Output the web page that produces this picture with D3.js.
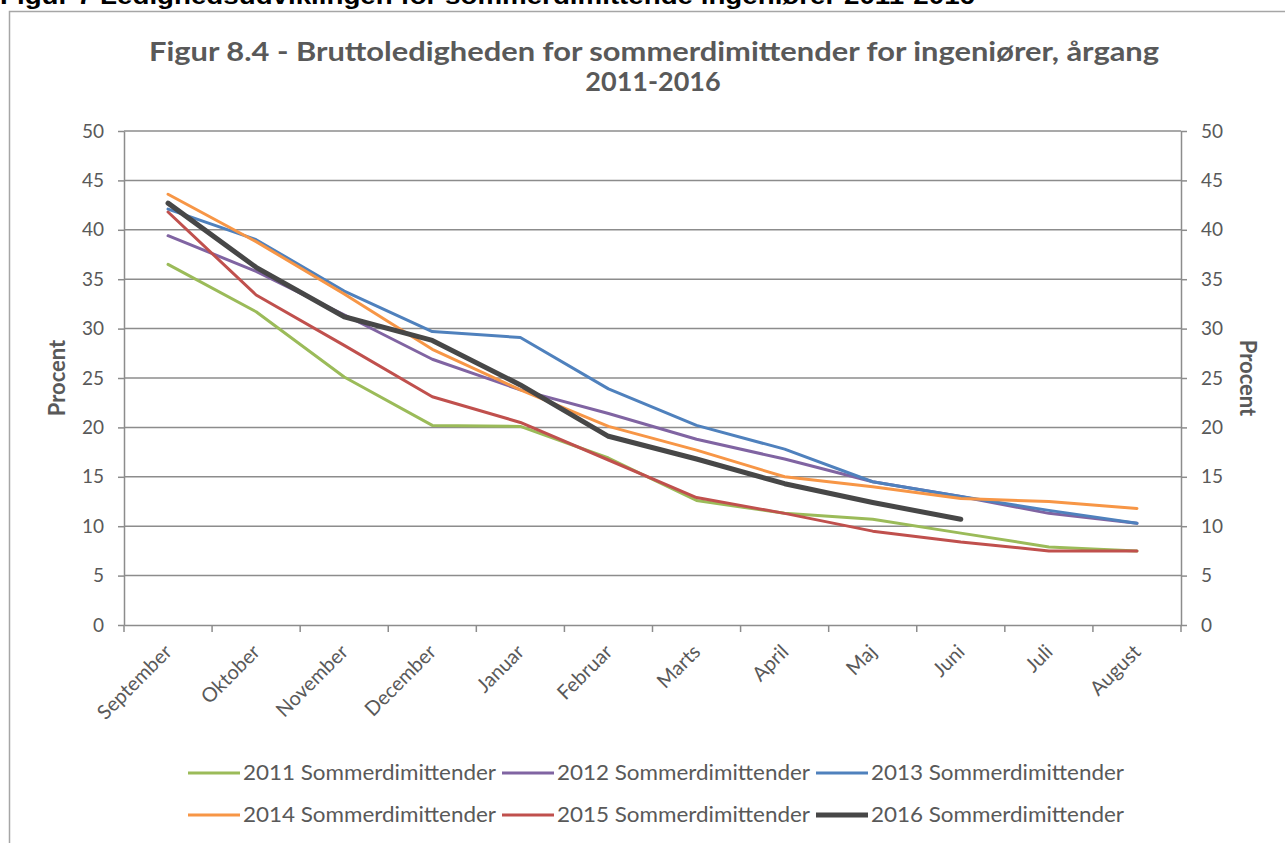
<head>
	<title>Figur 8.4</title>
	<style>
		body { margin:0; background:#fff; }
		text { font-family: Lato, "Open Sans", sans-serif; fill:#595959; }
	</style>
</head>
<body>
	<script src="https://d3js.org/d3.v7.min.js"></script>
	<script type="text/javascript">
		// data
		const months = ['September','Oktober','November','December','Januar','Februar','Marts','April','Maj','Juni','Juli','August'];
		const s2011 = [36.5, 31.7, 25.1, 20.2, 20.1, 16.9, 12.6, 11.3, 10.7, 9.3, 7.9, 7.5];
		const s2012 = [39.4, 35.8, 31.4, 26.9, 23.8, 21.4, 18.8, 16.8, 14.5, 13.0, 11.3, 10.3];
		const s2013 = [42.1, 39.0, 33.8, 29.7, 29.1, 23.9, 20.2, 17.8, 14.5, 13.0, 11.6, 10.3];
		const s2014 = [43.6, 38.8, 33.5, 27.9, 23.8, 20.1, 17.7, 15.0, 14.0, 12.8, 12.5, 11.8];
		const s2015 = [41.8, 33.4, 28.3, 23.1, 20.5, 16.7, 12.9, 11.3, 9.5, 8.4, 7.5, 7.5];
		const s2016 = [42.7, 36.2, 31.2, 28.8, 24.3, 19.1, 16.8, 14.3, 12.4, 10.7, null, null];
		const seriesNames = ['2011 Sommerdimittender','2012 Sommerdimittender','2013 Sommerdimittender','2014 Sommerdimittender','2015 Sommerdimittender','2016 Sommerdimittender'];
		const yTicks = [0,5,10,15,20,25,30,35,40,45,50];

		const colors = ['#9BBB59','#8064A2','#4F81BD','#F79646','#C0504D','#474747'];
		const widths = [3,3,3,3,3,5];
		const series = [s2011,s2012,s2013,s2014,s2015,s2016].map((v,i)=>({name:seriesNames[i], values:v, color:colors[i], width:widths[i]}));

		const w = 1285, h = 843;
		const margin = {top:131, left:124, right:104, bottom:218};
		const inner_w = w - margin.left - margin.right;
		const inner_h = h - margin.top - margin.bottom;

		const svg = d3.select('body').append('svg').attr('width', w).attr('height', h);

		// outer header, cut off at top like in the source document
		svg.append('text').attr('x', 0).attr('y', 4)
			.attr('textLength', 975).attr('lengthAdjust','spacingAndGlyphs')
			.style('font-family','"Liberation Sans", Arial, sans-serif').style('font-weight','bold')
			.style('font-size','24px').style('fill','#000')
			.text('Figur 7 Ledighedsudviklingen for sommerdimittende ingeniører 2011-2016');

		// chart frame
		svg.append('rect').attr('x', 9.5).attr('y', 11.5).attr('width', 1300).attr('height', 900)
			.attr('fill','none').attr('stroke','#a6a6a6').attr('stroke-width',1.5);

		// title
		const title = svg.append('text').attr('text-anchor','middle')
			.style('font-weight','bold').style('font-size','27px');
		title.append('tspan').attr('x', 654).attr('y', 61)
			.attr('textLength', 1010).attr('lengthAdjust','spacingAndGlyphs')
			.text('Figur 8.4 - Bruttoledigheden for sommerdimittender for ingeniører, årgang');
		title.append('tspan').attr('x', 653).attr('y', 91).text('2011-2016');

		const g = svg.append('g').attr('transform', `translate(${margin.left},${margin.top})`);

		const x = d3.scaleBand().domain(months).range([0, inner_w]);
		const y = d3.scaleLinear().domain([0, 50]).range([inner_h, 0]);

		// gridlines
		g.append('g').selectAll('line').data(yTicks.filter(d => d > 0)).enter().append('line')
			.attr('x1', 0).attr('x2', inner_w)
			.attr('y1', d => y(d)).attr('y2', d => y(d))
			.attr('stroke', '#8c8c8c').attr('stroke-width', 1.5);

		// axes
		const styleAxis = sel => {
			sel.select('.domain').attr('stroke','#8c8c8c').attr('stroke-width',1.5);
			sel.selectAll('.tick line').attr('stroke','#8c8c8c').attr('stroke-width',1.5);
			sel.selectAll('.tick text').style('font-family','Lato, sans-serif').style('font-size','19px').attr('fill','#595959');
		};
		g.append('g')
			.call(d3.axisLeft(y).tickValues(yTicks).tickSize(6).tickSizeOuter(0).tickPadding(14))
			.call(styleAxis);
		g.append('g').attr('transform', `translate(${inner_w},0)`)
			.call(d3.axisRight(y).tickValues(yTicks).tickSize(6).tickSizeOuter(0).tickPadding(14))
			.call(styleAxis);

		const xa = g.append('g').attr('transform', `translate(0,${inner_h})`)
			.call(d3.axisBottom(x).tickSize(0).tickSizeOuter(0))
			.call(styleAxis);
		xa.selectAll('.tick text')
			.style('font-size','20px')
			.attr('text-anchor','end')
			.attr('dy', 0)
			.attr('transform','translate(3,26) rotate(-45)');
		// category boundary ticks
		xa.append('g').selectAll('line').data(d3.range(months.length + 1)).enter().append('line')
			.attr('x1', i => i * x.step()).attr('x2', i => i * x.step())
			.attr('y1', 0).attr('y2', 7)
			.attr('stroke','#8c8c8c').attr('stroke-width',1.5);

		// axis titles
		g.append('text').attr('transform', `translate(-59,${inner_h/2}) rotate(-90)`)
			.attr('text-anchor','middle').style('font-weight','bold').style('font-size','22px').text('Procent');
		g.append('text').attr('transform', `translate(${inner_w+59},${inner_h/2}) rotate(90)`)
			.attr('text-anchor','middle').style('font-weight','bold').style('font-size','22px').text('Procent');

		// lines
		const line = d3.line()
			.defined(d => d != null)
			.x((d, i) => x(months[i]) + x.bandwidth() / 2)
			.y(d => y(d));
		g.selectAll('path.series').data(series).enter().append('path')
			.attr('class','series')
			.attr('d', d => line(d.values))
			.attr('fill','none')
			.attr('stroke', d => d.color)
			.attr('stroke-width', d => d.width)
			.attr('stroke-linejoin','round')
			.attr('stroke-linecap','round');

		// legend, 3 per row
		const legend = svg.append('g').selectAll('g').data(series).enter().append('g')
			.attr('transform', (d, i) => `translate(${188 + (i % 3) * 314},${773 + Math.floor(i / 3) * 42})`);
		legend.append('line').attr('x1', 0).attr('x2', 52).attr('y1', 0).attr('y2', 0)
			.attr('stroke', d => d.color).attr('stroke-width', d => d.width);
		legend.append('text').attr('x', 55).attr('y', 0).attr('dy','0.35em')
			.attr('textLength', 253).attr('lengthAdjust','spacingAndGlyphs')
			.style('font-size','21px').text(d => d.name);
	</script>
</body>
